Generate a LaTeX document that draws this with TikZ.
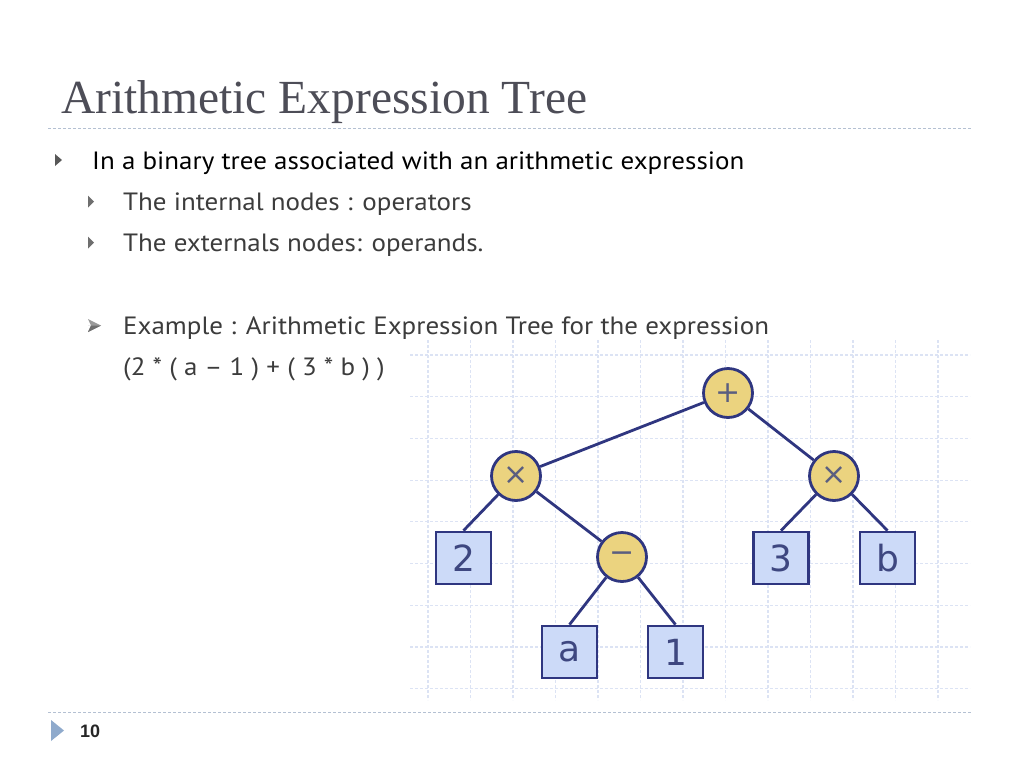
\documentclass[tikz,border=0pt]{standalone}
\usepackage{fontspec}
\setmainfont{PT Sans}[FakeStretch=1.08]
\newfontfamily\titlefont{Liberation Serif}
\newfontfamily\treefont{DejaVu Sans}
\newfontfamily\footfont{Liberation Sans}
\definecolor{titlegray}{HTML}{4D4D57}
\definecolor{subgray}{HTML}{3C3C3C}
\definecolor{bulletgray}{HTML}{6E6E6E}
\definecolor{sepcol}{HTML}{B4C0D2}
\definecolor{gridcol}{HTML}{DCE3F4}
\definecolor{opfill}{HTML}{EBD37F}
\definecolor{leaffill}{HTML}{CCDAF8}
\definecolor{navy}{HTML}{2F3680}
\definecolor{nodetext}{HTML}{3E4780}
\definecolor{optext}{HTML}{5A5E80}
\definecolor{footblue}{HTML}{8FAACC}
\begin{document}
\begin{tikzpicture}[x=1pt,y=-1pt,
  bodytext/.style={anchor=base west,inner sep=0pt,font=\fontsize{25}{28}\selectfont},
  optnode/.style={circle,draw=navy,line width=2.8pt,fill=opfill,minimum size=49pt,inner sep=0pt,
    text=optext,font=\treefont\fontsize{30}{30}\selectfont},
  leafnode/.style={rectangle,draw=navy,line width=2.8pt,fill=leaffill,minimum width=55pt,minimum height=52pt,inner sep=0pt,
    text=nodetext,font=\treefont\fontsize{36}{36}\selectfont},
  edge/.style={draw=navy,line width=2.8pt},
  sepline/.style={draw=sepcol,line width=1pt,dash pattern=on 3pt off 2pt},
  gridline/.style={draw=gridcol,line width=1.2pt,dash pattern=on 2.5pt off 2.5pt}
]
\useasboundingbox (0,0) rectangle (1024,768);
\fill[white] (0,0) rectangle (1024,768);

% title and separators
\node[anchor=base west,inner sep=0pt,text=titlegray,font=\titlefont\fontsize{47.5}{50}\selectfont] (title) at (61,113) {Arithmetic Expression Tree};
\draw[sepline] (48,128) -- (972,128);
\draw[sepline] (48,712) -- (972,712);

% bullets
\fill[bulletgray!80!black] (55,154) -- (62,160) -- (55,166) -- cycle;
\fill[bulletgray] (88,195.5) -- (94,201.5) -- (88,207.5) -- cycle;
\fill[bulletgray] (88,236.5) -- (94,242.5) -- (88,248.5) -- cycle;
\fill[bulletgray!70] (88,319) -- (101,325.5) -- (88,332) -- (91,325.5) -- cycle;
\fill[bulletgray] (88,325.5) -- (101,325.5) -- (88,332) -- (91,325.5) -- cycle;

\node[bodytext,text=black] (l1) at (92,169) {In a binary tree associated with an arithmetic expression};
\node[bodytext,text=subgray] (l2) at (123,210) {The internal nodes : operators};
\node[bodytext,text=subgray] (l3) at (123,251) {The externals nodes: operands.};
\node[bodytext,text=subgray] (l4) at (123,334) {Example : Arithmetic Expression Tree for the expression};
\node[bodytext,text=subgray] (l5) at (123,375) {(2 * ( a -- 1 ) + ( 3 * b ) )};

% footer
\fill[footblue] (51,720) -- (64,730.5) -- (51,741) -- cycle;
\node[anchor=base west,inner sep=0pt,text=black!85,font=\footfont\bfseries\fontsize{18}{20}\selectfont] (pg) at (80,737) {10};

% grid
\foreach \k in {0,...,12} {
  \draw[gridline] (428+42.5*\k,340) -- (428+42.5*\k,700);
}
\foreach \k in {0,...,8} {
  \draw[gridline] (410,355+41.7*\k) -- (970,355+41.7*\k);
}

% tree nodes
\node[optnode] (plus) at (728,393) {+};
\node[optnode] (tl) at (516,476) {×};
\node[optnode] (tr) at (834,476) {×};
\node[optnode] (minus) at (622,557) {−};
\node[leafnode] (two) at (463.5,558) {2};
\node[leafnode] (three) at (781,558) {3};
\node[leafnode] (b) at (887.5,558) {b};
\node[leafnode] (a) at (569.5,652) {a};
\node[leafnode] (one) at (675.5,652) {1};

% edges
\draw[edge] (plus) -- (tl);
\draw[edge] (plus) -- (tr);
\draw[edge] (tl) -- (two.north);
\draw[edge] (tl) -- (minus);
\draw[edge] (tr) -- (three.north);
\draw[edge] (tr) -- (b.north);
\draw[edge] (minus) -- (a.north);
\draw[edge] (minus) -- (one.north);
\end{tikzpicture}
\end{document}
